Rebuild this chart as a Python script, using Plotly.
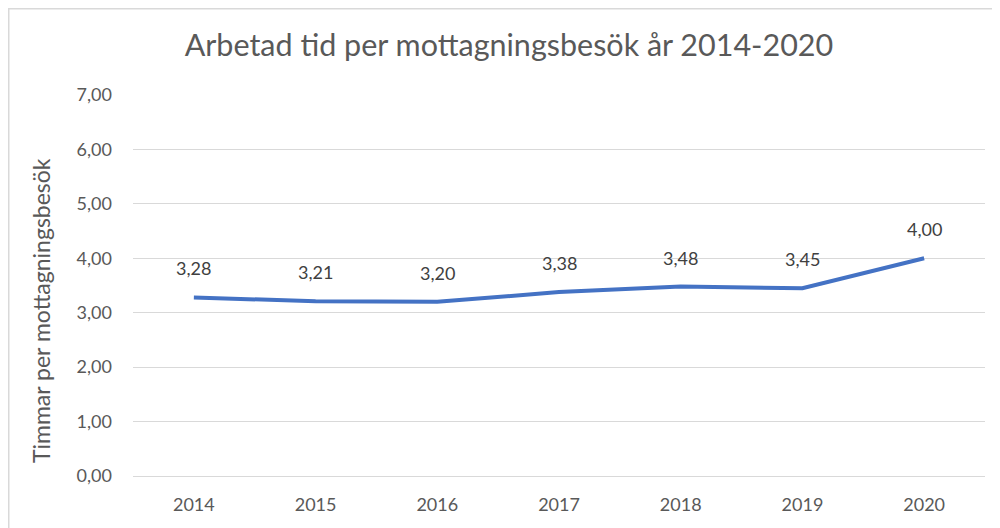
import plotly.graph_objects as go

years = ["2014", "2015", "2016", "2017", "2018", "2019", "2020"]
hours = [3.28, 3.21, 3.20, 3.38, 3.48, 3.45, 4.00]
y_ticks = [0, 1, 2, 3, 4, 5, 6, 7]
y_tick_labels = ["0,00", "1,00", "2,00", "3,00", "4,00", "5,00", "6,00", "7,00"]
labels = [f"{v:.2f}".replace(".", ",") for v in hours]

FONT = "Lato, Calibri, sans-serif"

fig = go.Figure()
fig.add_trace(go.Scatter(
    x=list(range(len(years))), y=hours, mode="lines",
    line=dict(color="#4472C4", width=4),
    hoverinfo="skip", showlegend=False,
))

for i, (y, t) in enumerate(zip(hours, labels)):
    fig.add_annotation(x=i, y=y, text=t, showarrow=False, yshift=29,
                       font=dict(family=FONT, size=18, color="#404040"))

# page body has an 8px margin -> figure is placed at (8, 8)
W, H = 992, 520
L, R, T, B = 125, 977, 87, 468
pw, ph = R - L, B - T
fig.add_shape(type="rect", xref="paper", yref="paper",
              x0=(0.75 - L) / pw, x1=(1200 - L) / pw,
              y0=(B - 900) / ph, y1=(B - 0.75) / ph,
              line=dict(color="#D9D9D9", width=1.5), fillcolor="rgba(0,0,0,0)", layer="below")

# y-axis title (placed like the reference, slightly below plot centre)
fig.add_annotation(text="Timmar per mottagningsbesök", xref="paper", yref="paper",
                   x=(33 - L) / pw, y=(B - 303) / ph, textangle=-90,
                   xanchor="center", yanchor="middle", showarrow=False,
                   font=dict(family=FONT, size=23, color="#595959"))

fig.update_layout(
    width=W, height=H,
    margin=dict(l=L, r=W - R, t=T, b=H - B),
    paper_bgcolor="white", plot_bgcolor="white",
    title=dict(text="Arbetad tid per mottagningsbesök år 2014-2020",
               x=0.505, xanchor="center", y=1 - 37 / H, yanchor="middle",
               font=dict(family=FONT, size=30.5, color="#595959")),
    font=dict(family=FONT, color="#595959"),
    xaxis=dict(range=[-0.5, len(years) - 0.5], tickvals=list(range(len(years))),
               ticktext=years, showgrid=False, zeroline=False,
               showline=True, linecolor="#D9D9D9", linewidth=1,
               tickfont=dict(family=FONT, size=18, color="#595959"),
               ticks="", ticklabelstandoff=12),
    yaxis=dict(range=[0, 7], tickvals=y_ticks, ticktext=y_tick_labels,
               showgrid=True, gridcolor="#D9D9D9", gridwidth=1,
               zeroline=False, showline=False, ticks="",
               tickfont=dict(family=FONT, size=18, color="#595959"),
               ticklabelstandoff=20),
)

fig.write_html("out.html")
